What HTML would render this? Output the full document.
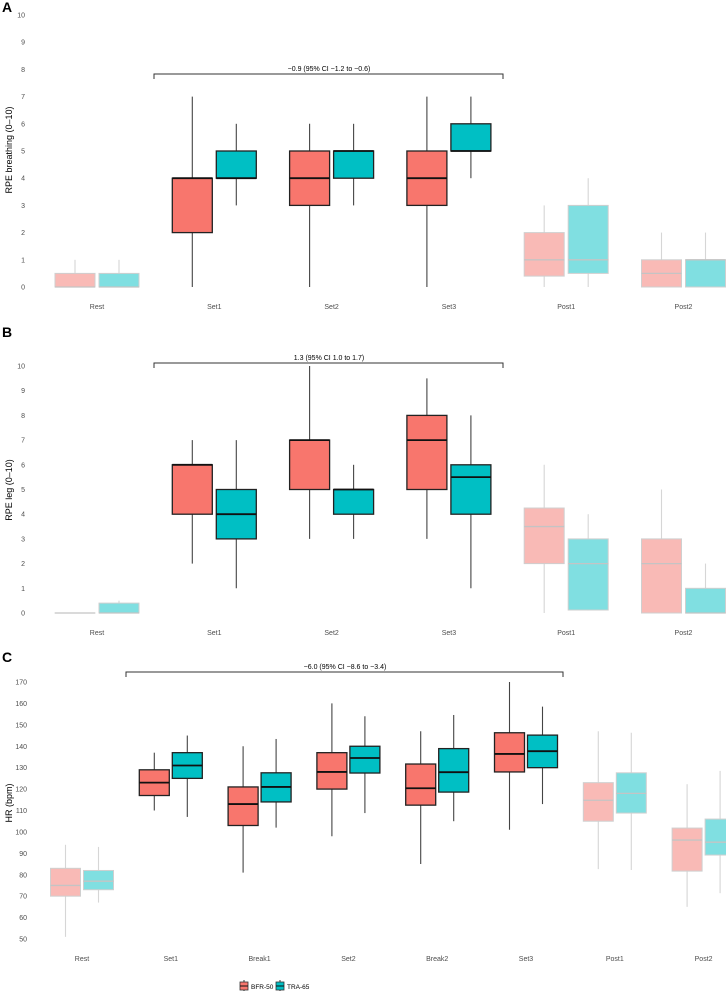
<!DOCTYPE html>
<html><head><meta charset="utf-8">
<style>
html,body{margin:0;padding:0;background:#fff;}
svg{display:block;font-family:"Liberation Sans",sans-serif;}
</style></head>
<body>
<svg id="chart" width="726" height="991" viewBox="0 0 726 991"></svg>
<script>
// Panel A: RPE breathing
const catsA = ["Rest","Set1","Set2","Set3","Post1","Post2"];
const fadedA = [true,false,false,false,true,true];
const bfrA = [[0,0,0,0.5,1],[0,2,4,4,7],[0,3,4,5,6],[0,3,4,5,7],[0,0.4,1,2,3],[0,0,0.5,1,2]];
const traA = [[0,0,0,0.5,1],[3,4,4,5,6],[3,4,5,5,6],[4,5,5,6,7],[0,0.5,1,3,4],[0,0,1,1,2]];
const ticksA = [0,1,2,3,4,5,6,7,8,9,10];
const labelA = "−0.9 (95% CI −1.2 to −0.6)";
// Panel B: RPE leg
const catsB = ["Rest","Set1","Set2","Set3","Post1","Post2"];
const fadedB = [true,false,false,false,true,true];
const bfrB = [[0,0,0,0,0],[2,4,6,6,7],[3,5,7,7,10],[3,5,7,8,9.5],[0,2,3.5,4.25,6],[0,0,2,3,5]];
const traB = [[0,0,0,0.4,0.5],[1,3,4,5,7],[3,4,5,5,6],[1,4,5.5,6,8],[0.1,0.12,2,3,4],[0,0,0,1,2]];
const ticksB = [0,1,2,3,4,5,6,7,8,9,10];
const labelB = "1.3 (95% CI 1.0 to 1.7)";
// Panel C: HR
const catsC = ["Rest","Set1","Break1","Set2","Break2","Set3","Post1","Post2"];
const fadedC = [true,false,false,false,false,false,true,true];
const bfrC = [[51,70,75,83,94],[110,117,123,129,137],[81,103,113,121,140],[98,120,128,137,160],[85,112.5,120.4,131.7,147],[101,128,136.4,146.3,170],[82.6,105,114.8,123,147],[65,81.7,96.2,101.8,122.3]];
const traC = [[67,73,77,82,93],[107,125,131,137,145],[102,114,121,127.6,143.4],[108.8,127.5,134.5,140,154],[105,118.6,127.9,138.9,154.6],[113,130,137.7,145.2,158.5],[82.2,108.8,118,127.6,146.3],[71.4,89.2,95.2,106,128.5]];
const ticksC = [50,60,70,80,90,100,110,120,130,140,150,160,170];
const labelC = "−6.0 (95% CI −8.6 to −3.4)";

const NS="http://www.w3.org/2000/svg";
const svg=document.getElementById('chart');
function mk(tag,attrs,parent){const e=document.createElementNS(NS,tag);for(const k in attrs)e.setAttribute(k,attrs[k]);(parent||svg).appendChild(e);return e;}

function panel(cfg){
  const g=mk('g',{});
  
  
  const y=v=>cfg.y0+(v-cfg.vmin)*(cfg.y1-cfg.y0)/(cfg.vmax-cfg.vmin);
  const x=i=>cfg.x0+i*cfg.dx;
  const L=mk('text',{x:2,y:cfg.letterY,'font-size':14,'font-weight':'bold',fill:'#000'},g);
  L.textContent=cfg.letter;
  
  
  const t=mk('text',{x:0,y:0,'font-size':9,fill:'#000','text-anchor':'middle',transform:`translate(${cfg.titleX},${cfg.titleY}) rotate(-90)`},g);
  t.textContent=cfg.title;
  
  
  cfg.ticks.forEach(v=>{
    const tt=mk('text',{x:cfg.tickX,y:y(v)+2.5,'font-size':7,fill:'#4d4d4d','text-anchor':'end'},g);
    tt.textContent=v;
    
    
  });
  cfg.cats.forEach((c,i)=>{
    const ct=mk('text',{x:x(i),y:cfg.catY,'font-size':7,fill:'#4d4d4d','text-anchor':'middle'},g);
    ct.textContent=c;
    
    
    [[cfg.bfr[i],-1,'#F8766D','#F9BAB6'],[cfg.tra[i],1,'#00BFC4','#80DFE1']].forEach(([d,s,col,fcol])=>{
      const f=cfg.faded[i];
      const cx=x(i)+s*cfg.off;
      const line=f?'#cfcfcf':'#222';
      const wl=f?'#d6d6d6':'#444';
      const bg=mk('g',{},g);
      
      
      mk('line',{x1:cx,x2:cx,y1:y(d[4]),y2:y(d[0]),stroke:wl,'stroke-width':1.1},bg);
      const top=y(d[3]),bot=y(d[1]);
      mk('rect',{x:cx-cfg.bw/2,y:top,width:cfg.bw,height:Math.max(bot-top,0.01),fill:f?fcol:col,stroke:line,'stroke-width':f?1:1.3},bg);
      mk('line',{x1:cx-cfg.bw/2,x2:cx+cfg.bw/2,y1:y(d[2]),y2:y(d[2]),stroke:f?'#c4c4c4':'#111','stroke-width':f?1.3:1.8},bg);
    });
  });
  const b=mk('g',{},g);
  
  
  mk('path',{d:`M${cfg.bx0},${cfg.by+5}V${cfg.by}H${cfg.bx1}V${cfg.by+5}`,fill:'none',stroke:'#333','stroke-width':1},b);
  const bt=mk('text',{x:cfg.btx,y:cfg.by-3,'font-size':7,fill:'#000','text-anchor':'middle'},b);
  bt.textContent=cfg.blabel;
}

panel({name:'panel-a',letter:'A',letterY:12,title:'RPE breathing (0–10)',titleX:12,titleY:150,tickX:25,
  cats:catsA,faded:fadedA,bfr:bfrA,tra:traA,ticks:ticksA,vmin:0,vmax:10,y0:287,y1:15,
  x0:97,dx:117.3,off:22,bw:40,catY:309,bx0:154,bx1:503,by:74,btx:329,blabel:labelA});
panel({name:'panel-b',letter:'B',letterY:337,title:'RPE leg (0–10)',titleX:12,titleY:490,tickX:25,
  cats:catsB,faded:fadedB,bfr:bfrB,tra:traB,ticks:ticksB,vmin:0,vmax:10,y0:613,y1:366,
  x0:97,dx:117.3,off:22,bw:40,catY:635,bx0:154,bx1:503,by:363,btx:329,blabel:labelB});
panel({name:'panel-c',letter:'C',letterY:662,title:'HR (bpm)',titleX:12,titleY:803,tickX:27,
  cats:catsC,faded:fadedC,bfr:bfrC,tra:traC,ticks:ticksC,vmin:50,vmax:170,y0:939,y1:682,
  x0:82,dx:88.8,off:16.5,bw:30,catY:961,bx0:126,bx1:563,by:672,btx:345,blabel:labelC});

// legend
const lg=mk('g',{});


[[240,'#F8766D','BFR-50',251],[276,'#00BFC4','TRA-65',287]].forEach(([kx,col,lab,tx])=>{
  const e=mk('g',{},lg);
  
  
  mk('line',{x1:kx+4,x2:kx+4,y1:980,y2:992,stroke:'#333','stroke-width':1},e);
  mk('rect',{x:kx,y:982,width:8,height:8,fill:col,stroke:'#333','stroke-width':0.8},e);
  mk('line',{x1:kx,x2:kx+8,y1:986,y2:986,stroke:'#111','stroke-width':1},e);
  const t=mk('text',{x:tx,y:989,'font-size':6.5,fill:'#000'},e);
  t.textContent=lab;
});
</script>
</body></html>
